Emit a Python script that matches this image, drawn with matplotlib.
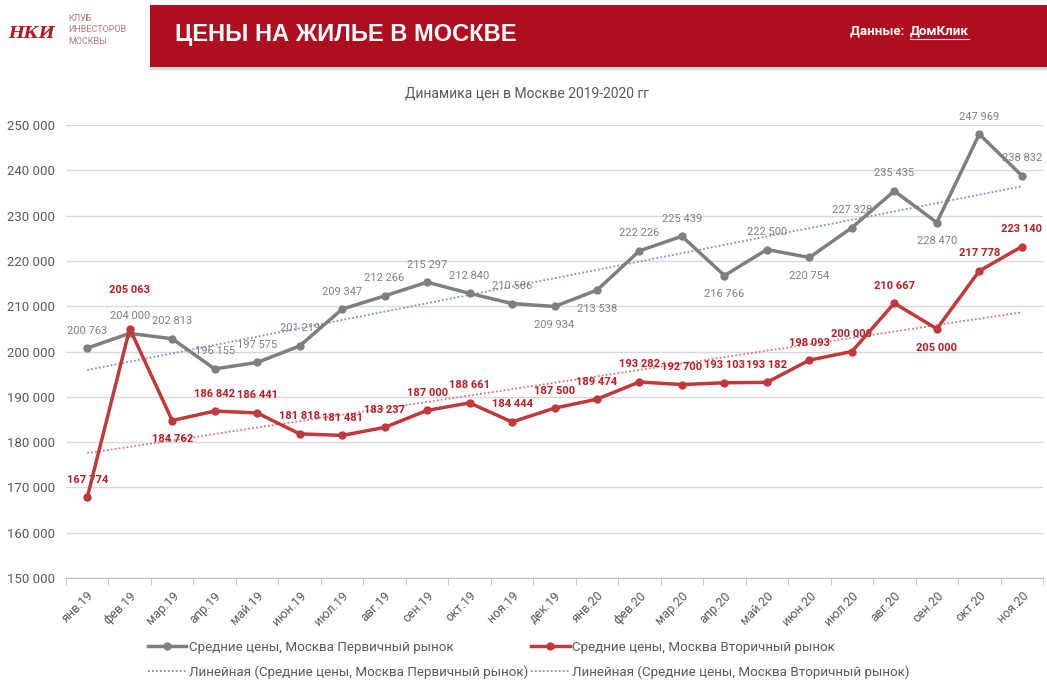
import numpy as np
import matplotlib.pyplot as plt
from matplotlib.patches import Rectangle
from matplotlib.lines import Line2D

plt.rcParams['font.family'] = ['Roboto', 'DejaVu Sans']

months = ["янв.19", "фев.19", "мар.19", "апр.19", "май.19", "июн.19", "июл.19",
          "авг.19", "сен.19", "окт.19", "ноя.19", "дек.19", "янв.20", "фев.20",
          "мар.20", "апр.20", "май.20", "июн.20", "июл.20", "авг.20", "сен.20",
          "окт.20", "ноя.20"]

primary = [200763, 204000, 202813, 196155, 197575, 201219, 209347, 212266,
           215297, 212840, 210586, 209934, 213538, 222226, 225439, 216766,
           222500, 220754, 227328, 235435, 228470, 247969, 238832]

secondary = [167774, 205063, 184762, 186842, 186441, 181818, 181481, 183237,
             187000, 188661, 184444, 187500, 189474, 193282, 192700, 193103,
             193182, 198093, 200000, 210667, 205000, 217778, 223140]

# label placement: 1 = above, -1 = below
prim_pos = [1, 1, 1, 1, 1, 1, 1, 1, 1, 1, 1, -1, -1, 1, 1, -1, 1, -1, 1, 1, -1, 1, 1]
sec_pos = [1, 1, -1, 1, 1, 1, 1, 1, 1, 1, 1, 1, 1, 1, 1, 1, 1, 1, 1, 1, -1, 1, 1]

yticks = list(range(150000, 250001, 10000))

gray = "#7f7f7f"
red = "#c0393b"
txt = "#595959"


def fmt(v):
    return f"{v:,}".replace(",", " ")


fig = plt.figure(figsize=(10.47, 6.82), dpi=100)

# header
fig.patches.append(Rectangle((150/1047, 1-70/682), 1, 4/682, transform=fig.transFigure,
                             facecolor="#d9d9d9", edgecolor="none"))
fig.patches.append(Rectangle((150/1047, 1-67/682), 1, 62/682, transform=fig.transFigure,
                             facecolor="#ae0f1e", edgecolor="none"))
fig.text(175/1047, 1-35/682, "ЦЕНЫ НА ЖИЛЬЕ В МОСКВЕ", color="white", fontsize=17,
         fontweight="bold", va="center", ha="left", family="Liberation Sans")
fig.text(850/1047, 1-31/682, "Данные: ", color="white", fontsize=9.5,
         va="center", ha="left", fontweight="bold")
src = fig.text(910/1047, 1-31/682, "ДомКлик", color="white", fontsize=9.5,
               va="center", ha="left", fontweight="bold")
# logo
fig.text(32/1047, 1-33/682, "НКИ", color="#b01a25", fontsize=12, family="DejaVu Serif",
         fontstyle="italic", fontweight="bold", va="center", ha="center")
fig.text(68/1047, 1-30/682, "КЛУБ\nИНВЕСТОРОВ\nМОСКВЫ", color="#b07a7e", fontsize=6.5,
         va="center", ha="left", linespacing=1.3)

fig.text(0.503, 1-93/682, "Динамика цен в Москве 2019-2020 гг", color=txt,
         fontsize=10, ha="center", va="center")

ax = fig.add_axes([66/1047, 1-578/682, 977/1047, 453/682])
x = np.arange(len(months))

for yv in yticks:
    ax.axhline(yv, color="#d9d9d9", lw=1, zorder=0)

# trend lines
pp = np.polyfit(x, primary, 1)
ps = np.polyfit(x, secondary, 1)
ax.plot(x, np.polyval(pp, x), ls=(0, (1, 1.2)), color="#7b93c9", lw=1.3, zorder=2)
ax.plot(x, np.polyval(ps, x), ls=(0, (1, 1.2)), color="#d9777a", lw=1.3, zorder=2)

ax.plot(x, primary, color=gray, lw=2.5, marker="o", ms=5, zorder=3)
ax.plot(x, secondary, color=red, lw=2.5, marker="o", ms=5, zorder=4)

for i, v in enumerate(primary):
    dy = 9 if prim_pos[i] > 0 else -10
    ax.annotate(fmt(v), (x[i], v), xytext=(0, dy), textcoords="offset points",
                ha="center", va="bottom" if dy > 0 else "top", color=gray, fontsize=8)
for i, v in enumerate(secondary):
    dy = 9 if sec_pos[i] > 0 else -10
    if i == 1:
        dy = 24
    ax.annotate(fmt(v), (x[i], v), xytext=(0, dy), textcoords="offset points",
                ha="center", va="bottom" if dy > 0 else "top", color="#b81c25",
                fontsize=8, fontweight="bold")

ax.set_xlim(-0.5, len(months) - 0.5)
ax.set_ylim(150000, 250000)
ax.set_yticks(yticks)
ax.set_yticklabels([fmt(v) for v in yticks], color=txt, fontsize=9.5)
ax.set_xticks(x)
ax.set_xticklabels(months, rotation=45, ha="right", rotation_mode="anchor",
                   color=txt, fontsize=9)
ax.set_xticks(np.arange(-0.5, len(months)), minor=True)
ax.tick_params(axis="y", length=0, pad=8)
ax.tick_params(axis="x", which="major", length=0, pad=8)
ax.tick_params(axis="x", which="minor", length=5, color="#bfbfbf")
for s in ["top", "right", "left"]:
    ax.spines[s].set_visible(False)
ax.spines["bottom"].set_color("#bfbfbf")

handles = [
    Line2D([], [], color=gray, lw=2.5, marker="o", ms=5),
    Line2D([], [], ls=(0, (1, 1.2)), color="#7b93c9", lw=1.3),
    Line2D([], [], color=red, lw=2.5, marker="o", ms=5),
    Line2D([], [], ls=(0, (1, 1.2)), color="#d9777a", lw=1.3),
]
labels = [
    "Средние цены, Москва Первичный рынок",
    "Линейная (Средние цены, Москва Первичный рынок)",
    "Средние цены, Москва Вторичный рынок",
    "Линейная (Средние цены, Москва Вторичный рынок)",
]
leg = fig.legend(handles, labels, ncol=2, loc="center", bbox_to_anchor=(0.505, 1-660/682),
                 frameon=False, fontsize=9.6, labelspacing=0.85, columnspacing=0.2,
                 handlelength=2.9, handletextpad=0.2)
for t in leg.get_texts():
    t.set_color(txt)

# underline the data source
fig.canvas.draw()
bb = src.get_window_extent().transformed(fig.transFigure.inverted())
fig.lines.append(Line2D([bb.x0, bb.x1], [bb.y0 - 1/682, bb.y0 - 1/682], color="white",
                        lw=0.8, transform=fig.transFigure))

fig.savefig("out.png", dpi=100)
